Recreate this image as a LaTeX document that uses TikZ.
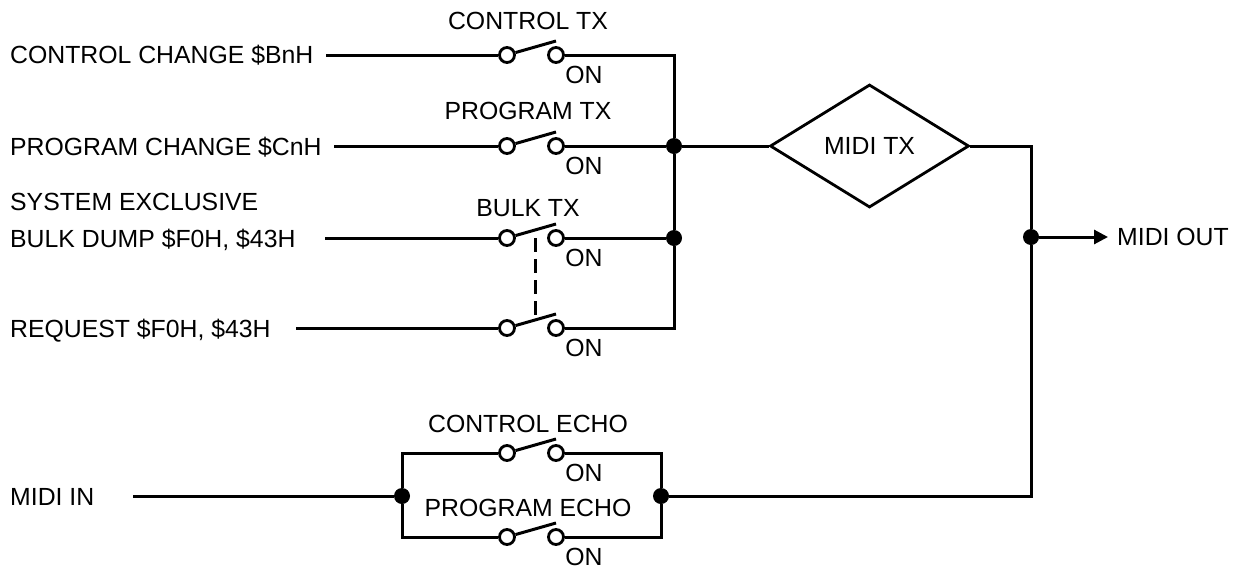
\documentclass[tikz,border=0pt]{standalone}
\usepackage{fontspec}
\setmainfont{Liberation Sans}
\usetikzlibrary{shapes.geometric,arrows.meta}
\tikzset{
  wire/.style={line width=3pt,line join=miter},
  thinw/.style={line width=3pt},
  conn/.style={circle,draw,line width=2.8pt,fill=white,inner sep=0pt,minimum size=15pt},
  dot/.style={circle,fill=black,inner sep=0pt,minimum size=16pt},
  lbl/.style={inner sep=0pt,font=\fontsize{24.8}{28}\selectfont,text=black},
  lleft/.style={lbl,anchor=base west},
}
\newcommand{\swt}[2]{% name, y
  \node[conn] (#1a) at (507,#2) {};
  \node[conn] (#1b) at (556,#2) {};
  \coordinate (#1t) at (556,#2-14);
  \draw[thinw] (#1a) -- (#1t);
  \node[lbl] (#1on) at (584,#2+20) {ON};
}
\begin{document}
\begin{tikzpicture}[x=1pt,y=-1pt]
\useasboundingbox (0,0) rectangle (1240,571);
% left labels
\node[lleft] (l1) at (10,63.5) {CONTROL CHANGE \$BnH};
\node[lleft] (l2) at (10,155) {PROGRAM CHANGE \$CnH};
\node[lleft] (l3x) at (10,210) {SYSTEM EXCLUSIVE};
\node[lleft] (l3) at (10,247) {BULK DUMP \$F0H, \$43H};
\node[lleft] (l4) at (10,337.5) {REQUEST \$F0H, \$43H};
\node[lleft] (l5) at (10,505) {MIDI IN};
% wire starts
\coordinate (i1) at (326,55);
\coordinate (i2) at (334,146);
\coordinate (i3) at (325,238);
\coordinate (i4) at (296,328);
\coordinate (i5) at (133,496);
% switches
\swt{s}{55}
\swt{p}{146}
\swt{b}{238}
\swt{r}{328}
\swt{c}{453}
\swt{e}{537}
% switch titles
\node[lbl] (ts) at (528,21) {CONTROL TX};
\node[lbl] (tp) at (528,111) {PROGRAM TX};
\node[lbl] (tb) at (528,208) {BULK TX};
\node[lbl] (tc) at (528,424) {CONTROL ECHO};
\node[lbl] (te) at (528,508) {PROGRAM ECHO};
% diamond and junctions
\node[diamond,draw,line width=2.8pt,minimum width=199pt,minimum height=123pt,inner sep=0pt,
  font=\fontsize{24.8}{28}\selectfont] (tx) at (869.5,146) {MIDI TX};
\node[dot] (j1) at (674,146) {};
\node[dot] (j2) at (674,238) {};
\node[dot] (j3) at (1031,237) {};
\node[dot] (jl) at (402,496) {};
\node[dot] (jr) at (661,496) {};
\node[lbl,anchor=west] (out) at (1117,237) {MIDI OUT};
\coordinate (tip) at (1108,237);
% input wires
\draw[wire] (i1) -- (sa);
\draw[wire] (i2) -- (pa);
\draw[wire] (i3) -- (ba);
\draw[wire] (i4) -- (ra);
\draw[wire] (i5) -- (jl);
% bus
\draw[wire] (sb) -| (j1);
\draw[wire] (pb) -- (j1);
\draw[wire] (bb) -- (j2);
\draw[wire] (rb) -| (j2);
\draw[wire] (j1) -- (j2);
\draw[wire] (j1) -- (tx.west);
% output
\draw[wire] (tx.east) -| (j3);
\draw[wire] (jr) -| (j3);
\draw[thinw,-{Triangle[length=14pt,width=14pt]}] (j3) -- (tip);
% echo box
\draw[wire] (jl) |- (ca);
\draw[wire] (jl) |- (ea);
\draw[wire] (cb) -| (jr);
\draw[wire] (eb) -| (jr);
% gang
\coordinate (g1) at (535,238);
\coordinate (g2) at (535,315);
\draw[thinw,dash pattern=on 14pt off 7pt] (g1) -- (g2);
\end{tikzpicture}
\end{document}
